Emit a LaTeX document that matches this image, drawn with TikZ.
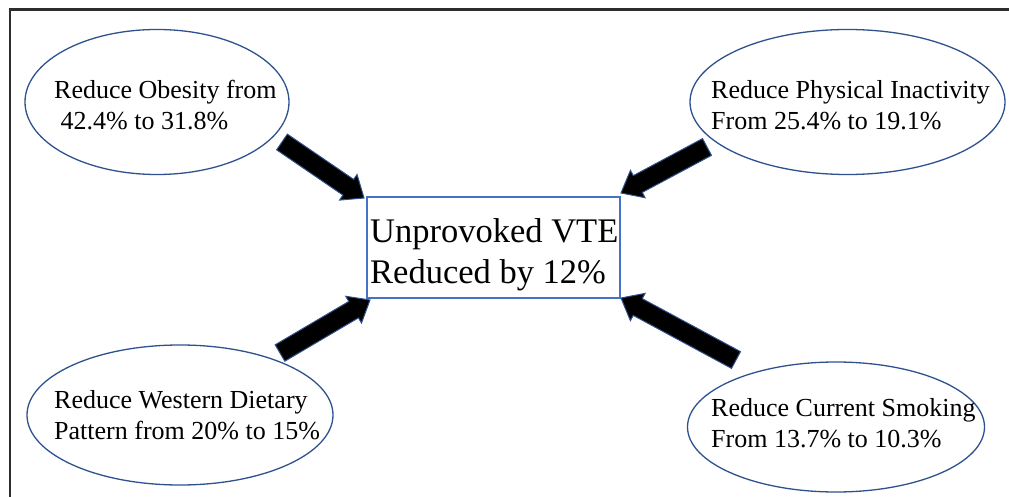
\documentclass[tikz,border=0pt]{standalone}
\usepackage{fontspec}
\setmainfont{Liberation Serif}
\usetikzlibrary{calc,shapes.geometric}
\definecolor{ellblue}{RGB}{47,82,143}
\definecolor{boxblue}{RGB}{68,114,196}
\definecolor{framegray}{RGB}{45,45,45}
\tikzset{
  ell/.style={draw=ellblue, line width=1.3pt, ellipse, inner sep=0pt},
  vtebox/.style={draw=boxblue, line width=1.1pt, rectangle, inner sep=0pt},
  smalltxt/.style={inner sep=0pt, anchor=base west, align=left, font=\fontsize{26pt}{31pt}\selectfont},
  bigtxt/.style={inner sep=0pt, anchor=base west, align=left, font=\fontsize{34.5pt}{40pt}\selectfont},
  blockarrow/.style={fill=black, draw=ellblue, line width=1pt, line join=miter}
}
\newcommand{\blockarr}[2]{%
  \coordinate (#1b) at ($(#2)!19pt!(#1)$);
  \filldraw[blockarrow] ($(#1)!9.5pt!90:(#2)$) -- ($(#1b)!9.5pt!90:(#2)$) -- ($(#1b)!15.5pt!90:(#2)$) -- (#2) -- ($(#1b)!15.5pt!-90:(#2)$) -- ($(#1b)!9.5pt!-90:(#2)$) -- ($(#1)!9.5pt!-90:(#2)$) -- cycle;}
\begin{document}
\begin{tikzpicture}[x=1pt, y=-1pt]
\useasboundingbox (0,0) rectangle (1009,497);
\clip (0,0) rectangle (1009,497);
\fill[white] (0,0) rectangle (1009,497);
% frame
\draw[framegray, line width=2.2pt] (10,9.5) rectangle (1040,530);
% ellipses
\node[ell, minimum width=264pt, minimum height=145pt] (e1) at (157,102) {};
\node[ell, minimum width=315pt, minimum height=145pt] (e2) at (847.5,102) {};
\node[ell, minimum width=306pt, minimum height=140pt] (e3) at (180,415) {};
\node[ell, minimum width=297pt, minimum height=130pt] (e4) at (836,427) {};
% central box
\node[vtebox, minimum width=253pt, minimum height=101pt] (vte) at (493.5,247.5) {};
% texts (anchor is the baseline of the last line)
\node[smalltxt] (t1) at (54,130) {Reduce Obesity from\\\ 42.4\% to 31.8\%};
\node[smalltxt] (t2) at (711,130) {Reduce Physical Inactivity\\From 25.4\% to 19.1\%};
\node[smalltxt] (t3) at (54,439) {Reduce Western Dietary\\Pattern from 20\% to 15\%};
\node[smalltxt] (t4) at (711,447) {Reduce Current Smoking\\From 13.7\% to 10.3\%};
\node[bigtxt] (tv) at (370,283) {Unprovoked VTE\\Reduced by 12\%};
% arrow ends
\coordinate (a1t) at (282,142); \coordinate (a1h) at (364,198);
\coordinate (a2t) at (707,147); \coordinate (a2h) at (621,193);
\coordinate (a3t) at (280,353); \coordinate (a3h) at (370,300);
\coordinate (a4t) at (736,360); \coordinate (a4h) at (621,298);
\blockarr{a1t}{a1h}
\blockarr{a2t}{a2h}
\blockarr{a3t}{a3h}
\blockarr{a4t}{a4h}
\end{tikzpicture}
\end{document}
